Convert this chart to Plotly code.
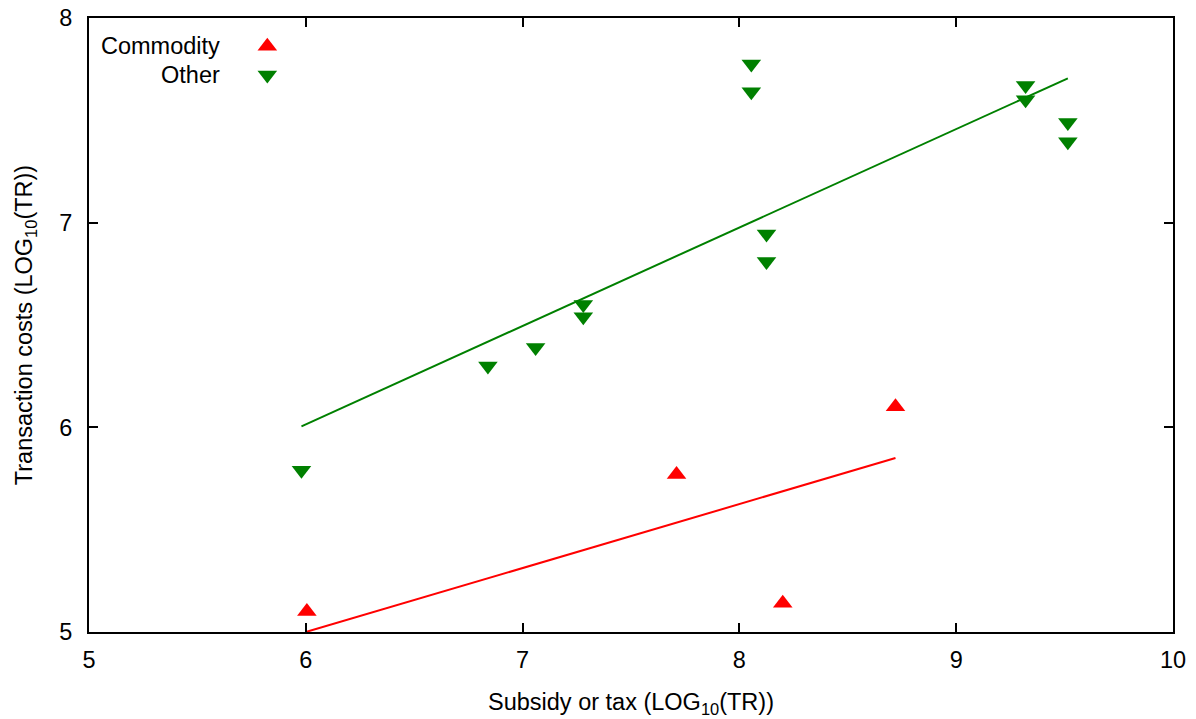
import plotly.graph_objects as go

# Data
commodity_x = [6.005, 7.71, 8.20, 8.72]
commodity_y = [5.10, 5.77, 5.14, 6.10]

other_x = [5.98, 6.84, 7.06, 7.28, 7.28, 8.055, 8.055, 8.125, 8.125, 9.32, 9.32, 9.515, 9.515]
other_y = [5.79, 6.30, 6.39, 6.60, 6.54, 7.775, 7.64, 6.945, 6.81, 7.67, 7.60, 7.49, 7.395]

fit_commodity_x = [6.0, 8.72]
fit_commodity_y = [5.0, 5.85]
fit_other_x = [5.98, 9.515]
fit_other_y = [6.005, 7.705]

x_ticks = [5, 6, 7, 8, 9, 10]
y_ticks = [5, 6, 7, 8]

RED = "#ff0000"
GREEN = "#008000"
FONT = "Liberation Sans, Arial, sans-serif"
FS = 23.5
MS = 17

fig = go.Figure()

fig.add_trace(go.Scatter(x=fit_other_x, y=fit_other_y, mode="lines",
                         line=dict(color=GREEN, width=2), showlegend=False, hoverinfo="skip"))
fig.add_trace(go.Scatter(x=fit_commodity_x, y=fit_commodity_y, mode="lines",
                         line=dict(color=RED, width=2), showlegend=False, hoverinfo="skip"))
fig.add_trace(go.Scatter(x=commodity_x, y=commodity_y, mode="markers", name="Commodity",
                         marker=dict(symbol="triangle-up", color=RED, size=MS, line=dict(width=0)),
                         showlegend=False, cliponaxis=False))
fig.add_trace(go.Scatter(x=other_x, y=other_y, mode="markers", name="Other",
                         marker=dict(symbol="triangle-down", color=GREEN, size=MS, line=dict(width=0)),
                         showlegend=False, cliponaxis=False))

# Legend keys (gnuplot style: text right-aligned, symbol on the right) on a hidden overlay axis
legend_names = ["Commodity", "Other"]
legend_symbols = ["triangle-up", "triangle-down"]
legend_colors = [RED, GREEN]
legend_rows = [0.954, 0.907]
for name, sym, col, ry in zip(legend_names, legend_symbols, legend_colors, legend_rows):
    fig.add_trace(go.Scatter(x=[0.1645], y=[ry], xaxis="x2", yaxis="y2", mode="markers",
                             marker=dict(symbol=sym, color=col, size=MS, line=dict(width=0)),
                             showlegend=False, hoverinfo="skip"))
    fig.add_annotation(x=0.1225, y=ry, xref="paper", yref="paper", text=name,
                       showarrow=False, xanchor="right", yanchor="middle",
                       font=dict(family=FONT, size=FS, color="black"))

axis_common = dict(showgrid=False, zeroline=False, showline=True, linecolor="black",
                   linewidth=2, mirror="ticks", ticks="inside", ticklen=9, tickwidth=1.5,
                   tickcolor="black", automargin=False,
                   tickfont=dict(family=FONT, size=FS, color="black"))

fig.update_layout(
    width=1196, height=719,
    margin=dict(l=89, r=23, t=18, b=87, autoexpand=False),
    paper_bgcolor="white", plot_bgcolor="white",
    xaxis=dict(range=[5, 10], tickvals=x_ticks, ticklabelstandoff=6,
               title=dict(text="Subsidy or tax (LOG<sub>10</sub>(TR))",
                          font=dict(family=FONT, size=FS, color="black"), standoff=21),
               **axis_common),
    yaxis=dict(range=[5, 8], tickvals=y_ticks, ticklabelstandoff=10,
               title=dict(text="Transaction costs (LOG<sub>10</sub>(TR))",
                          font=dict(family=FONT, size=FS, color="black"), standoff=20),
               **axis_common),
    xaxis2=dict(overlaying="x", range=[0, 1], visible=False),
    yaxis2=dict(overlaying="y", range=[0, 1], visible=False),
    showlegend=False,
)

fig.write_html("out.html")
